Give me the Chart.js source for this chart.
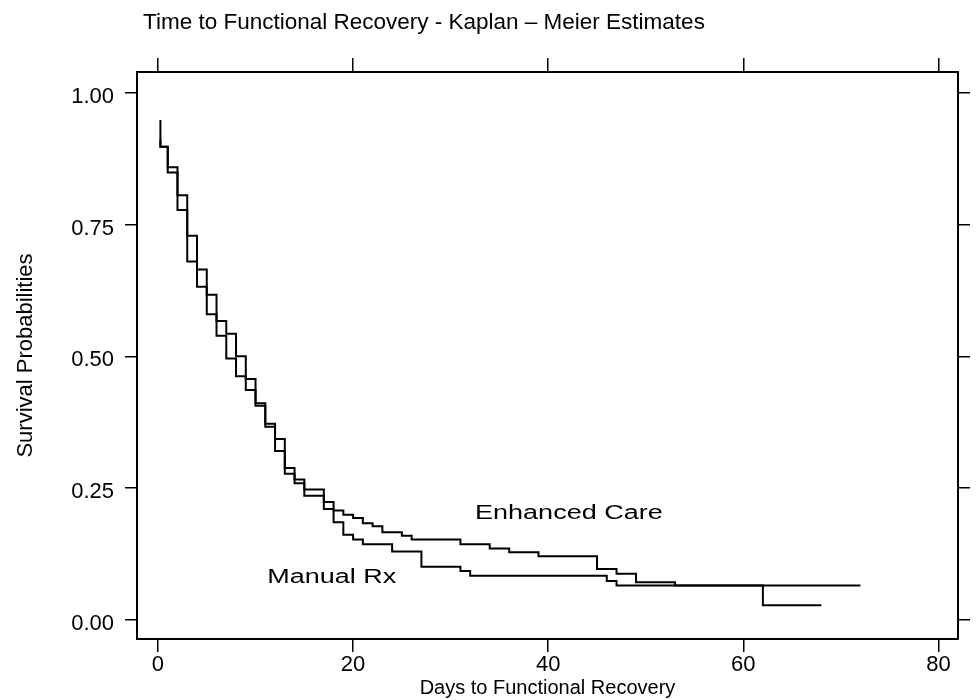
<!DOCTYPE html>
<html>
<head>
<meta charset="utf-8">
<title>Time to Functional Recovery</title>
<script src="https://cdn.jsdelivr.net/npm/chart.js@4.4.1/dist/chart.umd.min.js"></script>
<style>
  html, body { margin: 0; padding: 0; background: #fff; }
  #kmChart { display: block; }
</style>
</head>
<body>
<canvas id="kmChart" width="977" height="700"></canvas>
<script>
// Kaplan-Meier step points (day, survival)
const enhancedDays = [0.25, 0.25, 1, 2, 3, 4, 5, 6, 7, 8, 9, 10, 11, 12, 13, 14, 15, 17, 18, 19, 20, 21, 22, 23, 25, 26, 31, 34, 36, 39, 45, 47, 49, 53, 72];
const enhancedSurv = [0.949, 0.898, 0.859, 0.806, 0.729, 0.665, 0.617, 0.567, 0.543, 0.500, 0.457, 0.411, 0.372, 0.343, 0.288, 0.266, 0.247, 0.223, 0.207, 0.199, 0.193, 0.183, 0.177, 0.166, 0.159, 0.152, 0.143, 0.135, 0.128, 0.120, 0.096, 0.087, 0.071, 0.0645, 0.0645];

const manualDays = [0.25, 0.25, 1, 2, 3, 4, 5, 6, 7, 8, 9, 10, 11, 12, 13, 14, 15, 17, 18, 19, 20, 21, 24, 27, 31, 32, 46, 47, 62, 68];
const manualSurv = [0.912, 0.898, 0.849, 0.778, 0.680, 0.632, 0.580, 0.539, 0.496, 0.462, 0.436, 0.406, 0.366, 0.320, 0.277, 0.259, 0.235, 0.210, 0.185, 0.161, 0.152, 0.143, 0.129, 0.100, 0.092, 0.083, 0.073, 0.0645, 0.027, 0.027];

const xTicks = [0, 20, 40, 60, 80];
const yTicks = [0, 0.25, 0.5, 0.75, 1];

const curveNames = ['Enhanced Care', 'Manual Rx'];
const chartTitle = 'Time to Functional Recovery - Kaplan \u2013 Meier Estimates';
const xTitle = 'Days to Functional Recovery';
const yTitle = 'Survival Probabilities';

const FONT = '"Liberation Sans", Arial, Helvetica, sans-serif';

function toPoints(days, surv) {
    return days.map((d, i) => ({ x: d, y: surv[i] }));
}

// where the curve names sit, in data units
const nameAnchors = [
    { x: 32.5, y: 0.201 },
    { x: 11.2, y: 0.080 }
];

const textPlugin = {
    id: 'kmText',
    afterDraw(chart) {
        const ctx = chart.ctx;
        const xs = chart.scales.x;
        const ys = chart.scales.y;
        ctx.save();
        ctx.fillStyle = '#000';
        ctx.textBaseline = 'middle';
        ctx.textAlign = 'left';
        ctx.font = '22.5px ' + FONT;
        ctx.fillText(chartTitle, 143, 23);

        ctx.font = '20px ' + FONT;
        curveNames.forEach((name, i) => {
            const px = xs.getPixelForValue(nameAnchors[i].x);
            const py = ys.getPixelForValue(nameAnchors[i].y);
            ctx.save();
            ctx.translate(px, py);
            ctx.scale(1.35, 1); // the original lettering is wide
            ctx.fillText(name, 0, 0);
            ctx.restore();
        });
        ctx.restore();
    }
};

function frameGrid(len) {
    return {
        display: true,
        drawOnChartArea: false,
        drawTicks: true,
        tickLength: len,
        color: '#000',
        lineWidth: 1.5
    };
}

const frameBorder = { display: true, color: '#000', width: 2 };

const ctx = document.getElementById('kmChart').getContext('2d');
const kmChart = new Chart(ctx, {
    type: 'line',
    data: {
        datasets: [
            {
                label: curveNames[0],
                data: toPoints(enhancedDays, enhancedSurv),
                stepped: 'before',
                borderColor: '#000',
                borderWidth: 2,
                pointRadius: 0,
                fill: false
            },
            {
                label: curveNames[1],
                data: toPoints(manualDays, manualSurv),
                stepped: 'before',
                borderColor: '#000',
                borderWidth: 2,
                pointRadius: 0,
                fill: false
            }
        ]
    },
    options: {
        responsive: false,
        animation: false,
        devicePixelRatio: 1,
        layout: { padding: 0 },
        plugins: {
            legend: { display: false },
            title: { display: false },
            tooltip: { enabled: false }
        },
        scales: {
            x: {
                type: 'linear',
                position: 'bottom',
                min: -2.15,
                max: 82.0,
                afterBuildTicks: s => { s.ticks = xTicks.map(v => ({ value: v })); },
                ticks: {
                    color: '#000',
                    font: { family: FONT, size: 22 },
                    padding: 0,
                    maxRotation: 0
                },
                grid: frameGrid(13),
                border: frameBorder,
                title: {
                    display: true,
                    text: xTitle,
                    color: '#000',
                    font: { family: FONT, size: 20 },
                    padding: { top: 0, bottom: 0 }
                },
                afterFit: s => { s.height = 61; }
            },
            x2: {
                axis: 'x',
                type: 'linear',
                position: 'top',
                min: -2.15,
                max: 82.0,
                afterBuildTicks: s => { s.ticks = xTicks.map(v => ({ value: v })); },
                ticks: { display: false },
                grid: frameGrid(14),
                border: frameBorder,
                afterFit: s => { s.height = 72; }
            },
            y: {
                type: 'linear',
                position: 'left',
                min: -0.037,
                max: 1.04,
                afterBuildTicks: s => { s.ticks = yTicks.map(v => ({ value: v })); },
                ticks: {
                    color: '#000',
                    font: { family: FONT, size: 22 },
                    padding: 11,
                    labelOffset: 4,
                    callback: v => v.toFixed(2)
                },
                grid: frameGrid(12),
                border: frameBorder,
                title: {
                    display: true,
                    text: yTitle,
                    color: '#000',
                    font: { family: FONT, size: 22 },
                    padding: { top: 13, bottom: 0 }
                },
                afterFit: s => { s.width = 137; }
            },
            y2: {
                axis: 'y',
                type: 'linear',
                position: 'right',
                min: -0.037,
                max: 1.04,
                afterBuildTicks: s => { s.ticks = yTicks.map(v => ({ value: v })); },
                ticks: { display: false },
                grid: frameGrid(12),
                border: frameBorder,
                afterFit: s => { s.width = 19; }
            }
        }
    },
    plugins: [textPlugin]
});
</script>
</body>
</html>
